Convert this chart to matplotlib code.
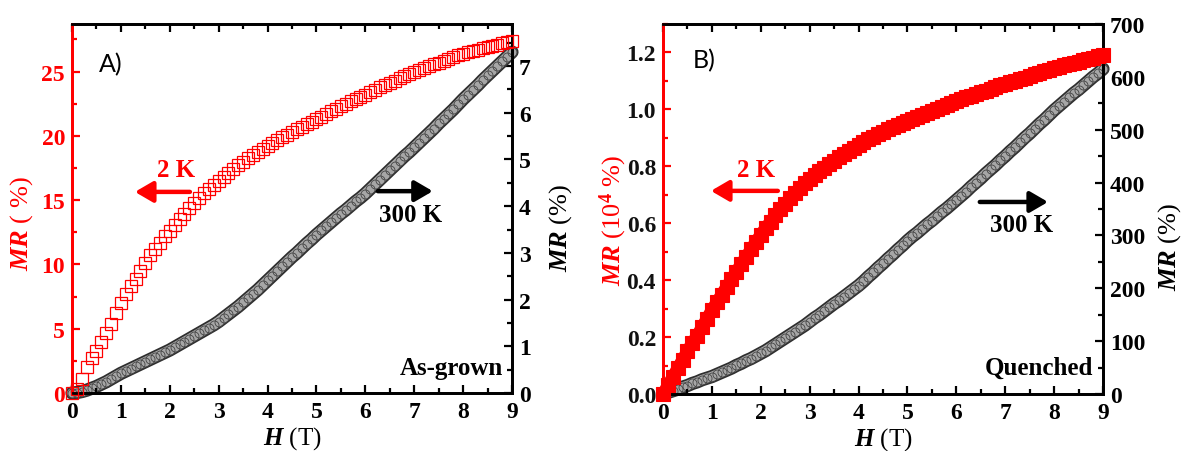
import numpy as np
import matplotlib
matplotlib.use('Agg')
import matplotlib.pyplot as plt
from matplotlib.ticker import MultipleLocator, FormatStrFormatter

# ---------------- data ----------------
field_T = np.arange(91) / 10.0  # H (T), 0 ... 9 in 0.1 T steps

asgrown_2K = [0.0, 0.3, 1.1, 2.0, 2.7, 3.3, 4.0, 4.7, 5.4, 6.2,
              7.0, 7.7, 8.3, 8.9, 9.5, 10.1, 10.7, 11.2, 11.7, 12.2,
              12.6, 13.1, 13.5, 13.95, 14.4, 14.8, 15.2, 15.55, 15.9, 16.2,
              16.5, 16.8, 17.1, 17.4, 17.7, 18.0, 18.25, 18.5, 18.75, 19.0,
              19.2, 19.45, 19.7, 19.9, 20.1, 20.3, 20.5, 20.7, 20.9, 21.1,
              21.3, 21.5, 21.7, 21.9, 22.1, 22.3, 22.5, 22.7, 22.85, 23.0,
              23.2, 23.4, 23.6, 23.8, 23.95, 24.1, 24.3, 24.5, 24.65, 24.8,
              25.0, 25.15, 25.3, 25.45, 25.6, 25.7, 25.85, 26.0, 26.15, 26.3,
              26.4, 26.5, 26.6, 26.7, 26.8, 26.9, 27.0, 27.1, 27.2, 27.3,
              27.4]

asgrown_300K = [0.0, 0.01, 0.03, 0.06, 0.10, 0.14, 0.19, 0.24, 0.30, 0.36,
                0.42, 0.47, 0.52, 0.57, 0.62, 0.67, 0.72, 0.77, 0.82, 0.87,
                0.92, 0.98, 1.04, 1.10, 1.16, 1.22, 1.28, 1.34, 1.40, 1.46,
                1.53, 1.61, 1.69, 1.77, 1.85, 1.94, 2.03, 2.12, 2.21, 2.31,
                2.41, 2.51, 2.61, 2.71, 2.81, 2.91, 3.00, 3.10, 3.20, 3.29,
                3.39, 3.48, 3.57, 3.66, 3.75, 3.84, 3.92, 4.01, 4.10, 4.18,
                4.27, 4.37, 4.47, 4.57, 4.67, 4.77, 4.87, 4.97, 5.07, 5.16,
                5.26, 5.36, 5.46, 5.56, 5.66, 5.77, 5.87, 5.97, 6.07, 6.18,
                6.29, 6.39, 6.49, 6.59, 6.70, 6.80, 6.90, 7.00, 7.10, 7.20,
                7.30]

quenched_2K = [0.0, 0.03, 0.06, 0.09, 0.12, 0.15, 0.18, 0.205, 0.235, 0.265,
               0.295, 0.322, 0.349, 0.376, 0.403, 0.43, 0.456, 0.482, 0.508, 0.534,
               0.56, 0.583, 0.606, 0.628, 0.649, 0.669, 0.689, 0.707, 0.724, 0.74,
               0.755, 0.769, 0.782, 0.795, 0.808, 0.82, 0.831, 0.842, 0.853, 0.864,
               0.875, 0.885, 0.895, 0.904, 0.913, 0.922, 0.93, 0.938, 0.945, 0.952,
               0.96, 0.967, 0.974, 0.981, 0.988, 0.995, 1.002, 1.009, 1.016, 1.023,
               1.03, 1.036, 1.042, 1.048, 1.054, 1.06, 1.066, 1.072, 1.078, 1.084,
               1.09, 1.096, 1.101, 1.107, 1.112, 1.118, 1.123, 1.129, 1.134, 1.14,
               1.145, 1.15, 1.155, 1.159, 1.164, 1.168, 1.173, 1.177, 1.182, 1.186,
               1.19]

quenched_300K = [0, 3, 6, 9, 13, 16, 20, 23, 27, 30,
                 33, 37, 41, 45, 49, 54, 58, 63, 67, 72,
                 77, 82, 88, 94, 100, 106, 112, 118, 124, 130,
                 137, 144, 150, 157, 164, 171, 177, 184, 191, 198,
                 205, 213, 222, 230, 239, 247, 256, 264, 273, 281,
                 290, 298, 305, 313, 321, 328, 336, 344, 351, 359,
                 367, 375, 383, 392, 400, 408, 417, 425, 433, 442,
                 450, 459, 467, 476, 485, 493, 502, 511, 519, 528,
                 537, 545, 553, 561, 569, 576, 584, 592, 600, 607,
                 615]

x_ticks = list(range(0, 10))

# ---------------- style ----------------
plt.rcParams['font.family'] = ['Liberation Serif', 'DejaVu Serif']
plt.rcParams['font.weight'] = 'bold'
plt.rcParams['mathtext.fontset'] = 'custom'
plt.rcParams['mathtext.it'] = 'Liberation Serif:italic:bold'
plt.rcParams['mathtext.rm'] = 'Liberation Serif:bold'
plt.rcParams['mathtext.bf'] = 'Liberation Serif:bold'

RED = '#ff0000'
TICK_FS = 17
LABEL_FS = 19
ANN_FS = 18

fig = plt.figure(figsize=(11.83, 4.52), dpi=100)


def style_axes(ax, ax2, left_color, left_ticklabel_color,
               lmaj, lmin, rmaj, rmin):
    for sp in ax.spines.values():
        sp.set_linewidth(2.0)
        sp.set_color('black')
    ax.spines['left'].set_color(left_color)
    for sp in ax2.spines.values():
        sp.set_linewidth(2.0)
    ax2.spines['left'].set_color(left_color)
    ax.set_xlim(0, 9)
    ax.set_xticks(x_ticks)
    ax.xaxis.set_minor_locator(MultipleLocator(0.5))
    ax.yaxis.set_major_locator(MultipleLocator(lmaj))
    ax.yaxis.set_minor_locator(MultipleLocator(lmin))
    ax2.yaxis.set_major_locator(MultipleLocator(rmaj))
    ax2.yaxis.set_minor_locator(MultipleLocator(rmin))
    ax.tick_params(axis='x', which='both', direction='in', top=True,
                   bottom=True, width=1.6, colors='black', labelsize=TICK_FS,
                   pad=6)
    ax.tick_params(axis='x', which='major', length=6)
    ax.tick_params(axis='x', which='minor', length=3.5)
    ax.tick_params(axis='y', which='both', direction='in', left=True,
                   right=False, width=1.6, color=left_color,
                   labelcolor=left_ticklabel_color, labelsize=TICK_FS, pad=5)
    ax.tick_params(axis='y', which='major', length=6)
    ax.tick_params(axis='y', which='minor', length=3.5)
    ax2.tick_params(axis='y', which='both', direction='in', width=1.6,
                    colors='black', labelsize=TICK_FS, pad=5)
    ax2.tick_params(axis='y', which='major', length=6)
    ax2.tick_params(axis='y', which='minor', length=3.5)
    for lab in ax.get_xticklabels() + ax.get_yticklabels() + ax2.get_yticklabels():
        lab.set_fontweight('bold')


def arrow(ax, start, end, color):
    ax.annotate('', xy=end, xytext=start, xycoords='axes fraction',
                textcoords='axes fraction',
                arrowprops=dict(arrowstyle='-|>,head_length=0.6,head_width=0.35',
                                lw=3.2, color=color, shrinkA=0, shrinkB=0,
                                mutation_scale=18))


def labels(ax, ax2, left_text, lx, ly, rx, ry):
    ax.set_xlabel(r'$H$ (T)', fontsize=18, va='center')
    ax.xaxis.set_label_coords(0.5, -0.12)
    ax.set_ylabel(left_text, fontsize=LABEL_FS, color=RED, va='center')
    ax.yaxis.set_label_coords(lx, ly)
    ax2.set_ylabel(r'$MR$ (%)', fontsize=LABEL_FS, color='black', va='center')
    ax2.yaxis.set_label_coords(rx, ry)


def circle_band(ax, x, y):
    # dense open-circle band: dark outline, grey body, small ring texture
    ax.plot(x, y, '-', lw=9.5, color='#2e2e2e', solid_capstyle='round',
            clip_on=False, zorder=2)
    ax.plot(x, y, '-', lw=7.0, color='#a6a6a6', solid_capstyle='round',
            clip_on=False, zorder=2)
    ax.plot(x, y, linestyle='none', marker='o', ms=6.5, mfc='none',
            mec='#444444', mew=0.6, clip_on=False, zorder=2)


# ---------------- panel A ----------------
axA = fig.add_axes([72 / 1183, 1 - 394 / 452, 440 / 1183, 369 / 452])
axA2 = axA.twinx()
axA.set_ylim(0, 28.7)
axA2.set_ylim(0, 7.9)
circle_band(axA2, field_T, asgrown_300K)
axA.plot(field_T, asgrown_2K, linestyle='none', marker='s', ms=8.5,
         mfc='none', mec=RED, mew=0.9, clip_on=False, zorder=3)
axA.set_zorder(axA2.get_zorder() + 1)
axA.patch.set_visible(False)
style_axes(axA, axA2, RED, RED, 5, 2.5, 1, 0.5)
labels(axA, axA2, r'$MR$ ( %)', -0.114, 0.463, 1.111, 0.45)

axA.text(0.089, 0.892, 'A)', transform=axA.transAxes, fontsize=18,
         family='Lato', fontweight='normal', ha='center', va='center')
axA.text(0.236, 0.607, '2 K', transform=axA.transAxes, fontsize=ANN_FS,
         color=RED, ha='center', va='center')
arrow(axA, (0.268, 0.545), (0.143, 0.545), RED)
axA.text(0.770, 0.485, '300 K', transform=axA.transAxes, fontsize=ANN_FS,
         color='black', ha='center', va='center')
arrow(axA, (0.695, 0.547), (0.820, 0.547), 'black')
axA.text(0.98, 0.07, 'As-grown', transform=axA.transAxes, fontsize=ANN_FS,
         ha='right', va='center')

# ---------------- panel B ----------------
axB = fig.add_axes([663 / 1183, 1 - 395 / 452, 440 / 1183, 370 / 452])
axB2 = axB.twinx()
axB.set_ylim(0, 1.3)
axB2.set_ylim(0, 700)
circle_band(axB2, field_T, quenched_300K)
axB.plot(field_T, quenched_2K, linestyle='-', lw=9, color=RED,
         solid_capstyle='butt', clip_on=False, zorder=3)
axB.plot(field_T, quenched_2K, linestyle='none', marker='s', ms=10.5,
         mfc=RED, mec=RED, mew=0.8, clip_on=False, zorder=3)
axB.set_zorder(axB2.get_zorder() + 1)
axB.patch.set_visible(False)
style_axes(axB, axB2, RED, '#111111', 0.2, 0.1, 100, 50)
axB.yaxis.set_major_formatter(FormatStrFormatter('%.1f'))
labels(axB, axB2, r'$MR$ (10$^4$ %)', -0.114, 0.473, 1.152, 0.40)

axB.text(0.093, 0.903, 'B)', transform=axB.transAxes, fontsize=18,
         family='Lato', fontweight='normal', ha='center', va='center')
axB.text(0.211, 0.608, '2 K', transform=axB.transAxes, fontsize=ANN_FS,
         color=RED, ha='center', va='center')
arrow(axB, (0.261, 0.549), (0.109, 0.549), RED)
axB.text(0.816, 0.459, '300 K', transform=axB.transAxes, fontsize=ANN_FS,
         color='black', ha='center', va='center')
arrow(axB, (0.720, 0.519), (0.875, 0.519), 'black')
axB.text(0.977, 0.073, 'Quenched', transform=axB.transAxes, fontsize=ANN_FS,
         ha='right', va='center')

fig.savefig('out.png', dpi=100)
